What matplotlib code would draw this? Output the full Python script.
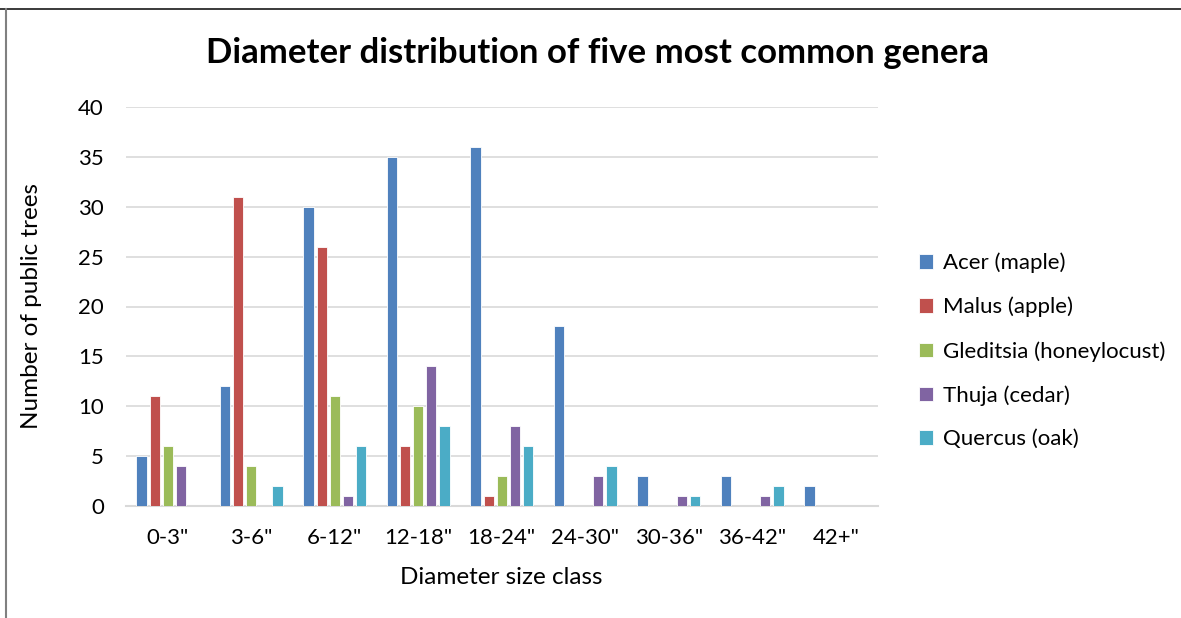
import numpy as np
import matplotlib.pyplot as plt
from matplotlib.lines import Line2D

plt.rcParams['font.family'] = ['Lato', 'DejaVu Sans']

categories = ['0-3"', '3-6"', '6-12"', '12-18"', '18-24"', '24-30"', '30-36"', '36-42"', '42+"']
series_names = ['Acer (maple)', 'Malus (apple)', 'Gleditsia (honeylocust)', 'Thuja (cedar)', 'Quercus (oak)']
acer = [5, 12, 30, 35, 36, 18, 3, 3, 2]
malus = [11, 31, 26, 6, 1, 0, 0, 0, 0]
gleditsia = [6, 4, 11, 10, 3, 0, 0, 0, 0]
thuja = [4, 0, 1, 14, 8, 3, 1, 1, 0]
quercus = [0, 2, 6, 8, 6, 4, 1, 2, 0]
colors = ['#4F81BD', '#C0504D', '#9BBB59', '#8064A2', '#4BACC6']

fig = plt.figure(figsize=(11.81, 6.18), dpi=100)
ax = fig.add_axes([126 / 1181, 1 - 506 / 618, (877.5 - 126) / 1181, (506 - 107) / 618])

x = np.arange(len(categories))
pitch = 0.156
width = 0.125
for i, (vals, name, c) in enumerate(zip([acer, malus, gleditsia, thuja, quercus], series_names, colors)):
    ax.bar(x + (i - 2) * pitch, vals, width, color=c, label=name,
           edgecolor='white', linewidth=0.6, zorder=3)

ax.set_xlim(-0.5, len(categories) - 0.5)
ax.set_ylim(0, 40)
ax.set_yticks(range(0, 41, 5))
ax.set_xticks(x)
ax.set_xticklabels(categories)
ax.tick_params(axis='both', length=0, labelsize=16, colors='#000000')
ax.tick_params(axis='x', pad=16)
ax.tick_params(axis='y', pad=16)
ax.grid(axis='y', color='#D9D9D9', linewidth=1.2, zorder=0)
for s in ['top', 'right', 'left']:
    ax.spines[s].set_visible(False)
ax.spines['bottom'].set_color('#D9D9D9')
ax.spines['bottom'].set_linewidth(1.5)

fig.text(597 / 1181, 1 - 53 / 618, 'Diameter distribution of five most common genera',
         ha='center', va='center', fontsize=25, fontweight='bold')
fig.text(501 / 1181, 1 - 577 / 618, 'Diameter size class', ha='center', va='center', fontsize=17.5)
fig.text(32 / 1181, 1 - 306 / 618, 'Number of public trees', ha='center', va='center',
         fontsize=17.5, rotation=90)

ax.legend(loc='center left', bbox_to_anchor=(899 / 1181, 1 - 351 / 618), bbox_transform=fig.transFigure,
          frameon=False, fontsize=16, handlelength=0.62, handleheight=0.62, handletextpad=0.45,
          labelspacing=1.06)

# outer frame (top and left)
fig.add_artist(Line2D([0, 1], [1 - 8.5 / 618, 1 - 8.5 / 618], transform=fig.transFigure, color='#2B2B2B', lw=1.3))
fig.add_artist(Line2D([5.5 / 1181, 5.5 / 1181], [0, 1 - 8.5 / 618], transform=fig.transFigure, color='#808080', lw=1.5))

fig.savefig('out.png', dpi=100)
